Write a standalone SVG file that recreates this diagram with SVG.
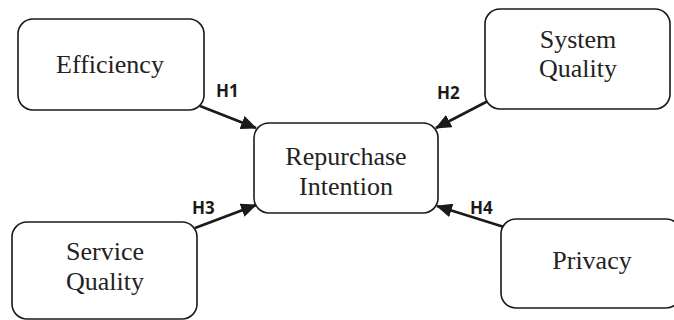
<svg xmlns="http://www.w3.org/2000/svg" width="674" height="320" viewBox="0 0 674 320">
<style>
.box{fill:#fff;stroke:#1a1a1a;stroke-width:1.6}
.t{font-family:"Liberation Serif",serif;font-size:26px;fill:#222;text-anchor:middle}
.h{font-family:"Open Sans","Liberation Sans",sans-serif;font-weight:bold;font-size:17px;fill:#1a1a1a}
.c{stroke:#1a1a1a;stroke-width:2.6;fill:none;marker-end:url(#ah)}
</style>
<defs>
<marker id="ah" markerWidth="16" markerHeight="14" refX="15" refY="7" orient="auto" markerUnits="userSpaceOnUse" viewBox="0 0 16 14">
<path d="M0,0 L16,7 L0,14 Z" fill="#1a1a1a"/>
</marker>
</defs>
<g id="connectors">
<line class="c" x1="200" y1="106" x2="256" y2="128"/>
<line class="c" x1="488" y1="101" x2="436" y2="128"/>
<line class="c" x1="195" y1="228" x2="256" y2="205"/>
<line class="c" x1="504" y1="227" x2="437" y2="206"/>
<text class="h" x="216" y="97">H1</text>
<text class="h" x="437" y="99">H2</text>
<text class="h" x="192" y="214">H3</text>
<text class="h" x="470" y="214">H4</text>
</g>
<g id="efficiency">
<rect class="box" x="18" y="19" width="186" height="91" rx="15"/>
<text class="t" x="110" y="73">Efficiency</text>
</g>
<g id="system-quality">
<rect class="box" x="485" y="9" width="185" height="100" rx="15"/>
<text class="t" x="578" y="48">System</text>
<text class="t" x="578" y="77">Quality</text>
</g>
<g id="repurchase-intention">
<rect class="box" x="254" y="123" width="184" height="90" rx="15"/>
<text class="t" x="346" y="165">Repurchase</text>
<text class="t" x="346" y="195">Intention</text>
</g>
<g id="service-quality">
<rect class="box" x="12" y="222" width="185" height="97" rx="15"/>
<text class="t" x="105" y="260">Service</text>
<text class="t" x="105" y="290">Quality</text>
</g>
<g id="privacy">
<rect class="box" x="501" y="219" width="180" height="89" rx="15"/>
<text class="t" x="592" y="269">Privacy</text>
</g>
</svg>
